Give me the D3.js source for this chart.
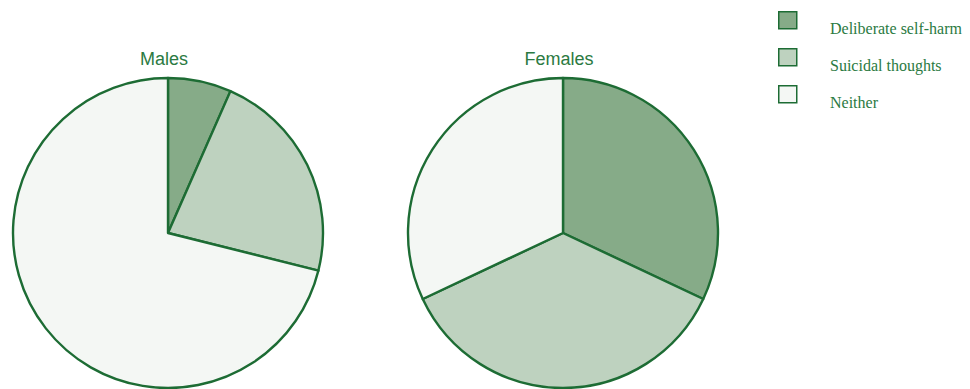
<!DOCTYPE html>
<html>
<head>
<meta charset="utf-8">
<script src="https://cdn.jsdelivr.net/npm/d3@7"></script>
<style>
  html, body { margin: 0; padding: 0; background: #ffffff; }
  svg { display: block; }
</style>
</head>
<body>
<svg id="chart" width="970" height="389"></svg>
<script>
// Categories and shares (%) for each group
const categories = ["Deliberate self-harm", "Suicidal thoughts", "Neither"];
const groups = ["Males", "Females"];
const malesValues = [6.6, 22.3, 71.1];
const femalesValues = [32, 36, 32];

const fills = ["#86ab88", "#bed2bf", "#f4f7f4"];
const strokeColor = "#1d6c34";
const textColor = "#2b7a42";

const svg = d3.select("#chart");

const color = d3.scaleOrdinal().domain(categories).range(fills);

const pie = d3.pie().sort(null).value(d => d.value);
const radius = 155;
const arc = d3.arc().innerRadius(0).outerRadius(radius);

const xPos = d3.scalePoint().domain(groups).range([168, 563]);
const cy = 233;

const series = { Males: malesValues, Females: femalesValues };

groups.forEach(g => {
  const data = categories.map((c, i) => ({ category: c, value: series[g][i] }));
  const cx = xPos(g);
  const gEl = svg.append("g").attr("transform", `translate(${cx},${cy})`);
  gEl.selectAll("path")
    .data(pie(data))
    .join("path")
    .attr("d", arc)
    .attr("fill", d => color(d.data.category))
    .attr("stroke", strokeColor)
    .attr("stroke-width", 2.4)
    .attr("stroke-linejoin", "round");

  svg.append("text")
    .attr("x", cx - 4)
    .attr("y", 65)
    .attr("text-anchor", "middle")
    .attr("font-family", "'Liberation Sans', Arial, sans-serif")
    .attr("font-size", 18)
    .attr("fill", textColor)
    .text(g);
});

// Legend
const legend = svg.append("g").attr("transform", "translate(778,11)");
const item = legend.selectAll("g")
  .data(categories)
  .join("g")
  .attr("transform", (d, i) => `translate(0,${i * 37})`);

item.append("rect")
  .attr("x", 0.75)
  .attr("y", 0.75)
  .attr("width", 18)
  .attr("height", 17)
  .attr("fill", d => color(d))
  .attr("stroke", strokeColor)
  .attr("stroke-width", 1.5);

item.append("text")
  .attr("x", 52)
  .attr("y", 22.5)
  .attr("font-family", "'Liberation Serif', 'Times New Roman', serif")
  .attr("font-size", 16)
  .attr("fill", textColor)
  .text(d => d);
</script>
</body>
</html>
